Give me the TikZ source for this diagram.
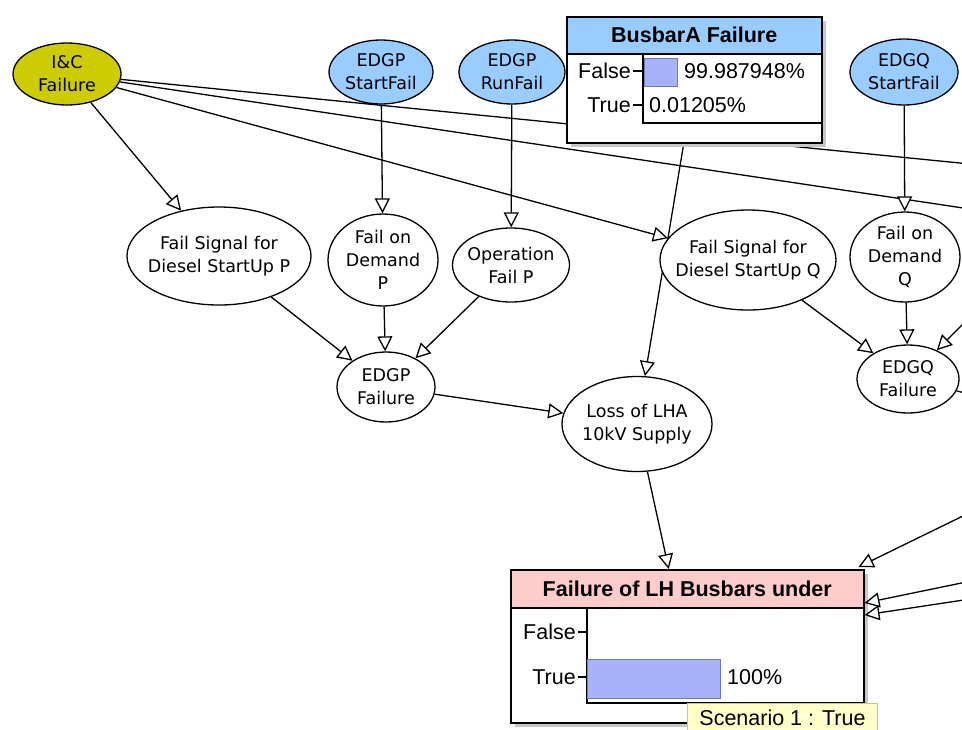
\documentclass[tikz,border=0pt]{standalone}
\usepackage{fontspec}
\setmainfont{Liberation Sans}
\newfontfamily\nodefont{DejaVu Sans}
\usepackage{xcolor}
\usepackage{tikz}
\usetikzlibrary{shapes.geometric,arrows.meta,shadows}

\definecolor{obsblue}{RGB}{153,204,255}
\definecolor{icyellow}{RGB}{204,204,0}
\definecolor{headpink}{RGB}{255,204,204}
\definecolor{barblue}{RGB}{166,178,250}
\definecolor{barline}{RGB}{112,122,176}
\definecolor{tipyellow}{RGB}{255,255,200}
\definecolor{tipline}{RGB}{196,196,150}

\pgfdeclarelayer{back}
\pgfsetlayers{back,main}

\begin{document}
\begin{tikzpicture}[x=1pt, y=-1pt,
	var/.style={ellipse, draw, line width=1.3pt, fill=white, inner xsep=-25pt, inner ysep=-12pt, align=center, font=\nodefont\fontsize{17.5pt}{23pt}\selectfont},
	obs/.style={var, fill=obsblue},
	link/.style={line width=1.3pt, -{Triangle[fill=white, length=15pt, width=15pt]}},
	plain/.style={line width=1.3pt},
	monitor/.style={draw, line width=1.5pt, fill=white, anchor=north west, inner sep=0pt, drop shadow={shadow xshift=4pt, shadow yshift=-4pt, fill=black!22, opacity=1}},
	head/.style={draw, line width=1.5pt, anchor=north west, inner sep=0pt, font=\fontsize{21.5pt}{25pt}\selectfont\bfseries},
	txt/.style={inner sep=0pt, font=\fontsize{21.5pt}{25pt}\selectfont},
	bar/.style={fill=barblue, draw=barline, line width=0.8pt},
	tip/.style={draw=tipline, fill=tipyellow, line width=1pt, anchor=north west, minimum width=190pt, minimum height=28pt, inner sep=0pt, font=\fontsize{21.5pt}{25pt}\selectfont}]
	\useasboundingbox (0,0) rectangle (962,729);

	\node[var, fill=icyellow, minimum width=108pt, minimum height=62pt] (ic) at (67,74) {I\&C\\Failure};
	\node[obs, minimum width=104pt, minimum height=64pt] (pstart) at (381,72) {EDGP\\StartFail};
	\node[obs, minimum width=106pt, minimum height=64pt] (prun) at (512,72) {EDGP\\RunFail};
	\node[obs, minimum width=108pt, minimum height=66pt] (qstart) at (904,72) {EDGQ\\StartFail};
	\node[var, minimum width=184pt, minimum height=98pt] (sigp) at (219,256) {Fail Signal for\\Diesel StartUp P};
	\node[var, minimum width=110pt, minimum height=92pt] (demp) at (383,260) {Fail on\\Demand\\P};
	\node[var, minimum width=117pt, minimum height=74pt] (opp) at (511,265) {Operation\\Fail P};
	\node[var, minimum width=98pt, minimum height=70pt] (edgp) at (386,387) {EDGP\\Failure};
	\node[var, minimum width=150pt, minimum height=95pt] (loss) at (637,424) {Loss of LHA\\10kV Supply};
	\node[var, minimum width=176pt, minimum height=100pt] (sigq) at (748,260) {Fail Signal for\\Diesel StartUp Q};
	\node[var, minimum width=110pt, minimum height=90pt] (demq) at (905,257) {Fail on\\Demand\\Q};
	\node[var, minimum width=102pt, minimum height=68pt] (edgq) at (908,379) {EDGQ\\Failure};

	\node[monitor, minimum width=255pt, minimum height=126pt] (busA) at (566,16) {};
	\node[head, fill=obsblue, minimum width=255pt, minimum height=37pt] (busA-head) at (busA.north west) {BusbarA Failure};
	\draw[line width=1.2pt] (643,53) -- (643,123) -- (821,123);
	\draw[line width=1.2pt] (633,71) -- (643,71) (633,105) -- (643,105);
	\draw[bar] (644,58) rectangle (677,86);
	\node[txt, anchor=east] (busA-f) at (631,71) {False};
	\node[txt, anchor=east] (busA-t) at (631,105) {True};
	\node[txt, anchor=west] (busA-pf) at (684,71) {99.987948\%};
	\node[txt, anchor=west] (busA-pt) at (649,105) {0.01205\%};

	\node[monitor, minimum width=353pt, minimum height=153pt] (lhb) at (510,569) {};
	\node[head, fill=headpink, minimum width=353pt, minimum height=38pt] (lhb-head) at (lhb.north west) {Failure of LH Busbars under};
	\draw[line width=1.2pt] (587,607) -- (587,703) -- (863,703);
	\draw[line width=1.2pt] (578,632) -- (587,632) (578,677) -- (587,677);
	\draw[bar] (587,659) rectangle (720,698);
	\node[txt, anchor=east] (lhb-f) at (576,632) {False};
	\node[txt, anchor=east] (lhb-t) at (576,677) {True};
	\node[txt, anchor=west] (lhb-pt) at (727,677) {100\%};
	\node[tip] (scen) at (687,703) {Scenario 1 : True};

	\coordinate (offA) at (1010,168);
	\coordinate (offB) at (1010,215);
	\coordinate (offC) at (1000,287);
	\coordinate (offD) at (1010,404);
	\coordinate (offE) at (1010,493);
	\coordinate (offF) at (1010,573);
	\coordinate (offG) at (1010,593);

	\begin{pgfonlayer}{back}
		\draw[link] (ic) -- (sigp);
		\draw[link] (ic) -- (sigq);
		\draw[plain] (ic) -- (offA);
		\draw[plain] (ic) -- (offB);
		\draw[link] (pstart) -- (demp);
		\draw[link] (prun) -- (opp);
		\draw[link] (qstart) -- (demq);
		\draw[link] (sigp) -- (edgp);
		\draw[link] (demp) -- (edgp);
		\draw[link] (opp) -- (edgp);
		\draw[link] (edgp) -- (loss);
		\draw[link] ([xshift=-10.5pt]busA.south) -- (loss);
		\draw[link] (sigq) -- (edgq);
		\draw[link] (demq) -- (edgq);
		\draw[link] (offC) -- (edgq);
		\draw[plain] (edgq) -- (offD);
	\end{pgfonlayer}
	\draw[link] (loss) -- ([xshift=-18.5pt]lhb.north);
	\draw[link] (offE) -- ([xshift=-6pt,yshift=2pt]lhb.north east);
	\draw[link] (offF) -- ([yshift=-34pt]lhb.north east);
	\draw[link] (offG) -- ([yshift=-46pt]lhb.north east);
\end{tikzpicture}
\end{document}
